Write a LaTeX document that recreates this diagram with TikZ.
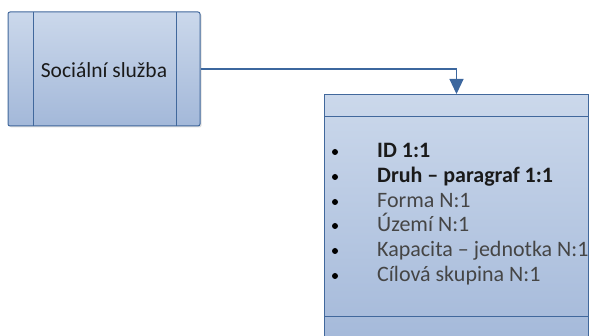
\documentclass[tikz,border=0pt]{standalone}
\usepackage{fontspec}
\setmainfont{Carlito}
\usetikzlibrary{arrows.meta,shadows}
\definecolor{boxtop}{HTML}{CBD8EB}
\definecolor{boxbot}{HTML}{A3B8D9}
\definecolor{edge}{HTML}{41689C}
\definecolor{link}{HTML}{3C679E}
\definecolor{darktext}{HTML}{1A1A1A}
\definecolor{greytext}{HTML}{454545}
\tikzset{
  boxstyle/.style={draw=edge, line width=1pt, top color=boxtop, bottom color=boxbot,
    inner sep=0pt, drop shadow={shadow xshift=1.5pt, shadow yshift=-1.5pt, opacity=0.25}},
  itemtext/.style={anchor=base west, inner sep=0pt},
  bulletdot/.style={circle, fill=black, inner sep=0pt, minimum size=6pt},
  linkstyle/.style={draw=link, line width=1.2pt, -{Triangle[length=15pt,width=14pt]}}
}
\newcommand{\itemsize}{\fontsize{22}{25}\selectfont}
\newcommand{\svcsize}{\fontsize{21.5}{25}\selectfont}
\begin{document}
\begin{tikzpicture}[x=1pt,y=-1pt]
\useasboundingbox (0,0) rectangle (589,336);
\clip (0,0) rectangle (589,336);
% left process box
\node[boxstyle, rounded corners=2pt, minimum width=192pt, minimum height=114pt] (svc) at (104,69) {};
\draw[edge, line width=1pt] (33,12) -- (33,126) (176,12) -- (176,126);
\node[font=\svcsize, text=darktext] (svctext) at (104,70) {Sociální služba};
% right class box
\node[boxstyle, minimum width=264pt, minimum height=256pt, anchor=north west] (cls) at (324,94) {};
\draw[edge, line width=1pt] (324,117) -- (588,117) (324,317) -- (588,317);
% connector
\draw[linkstyle] (svc.east) -| (cls.north);
% items
\node[bulletdot] (dota) at (335,152) {};
\node[itemtext, text=darktext, font=\itemsize\bfseries] (itema) at (377,158) {ID 1:1};
\node[bulletdot] (dotb) at (335,177) {};
\node[itemtext, text=darktext, font=\itemsize\bfseries] (itemb) at (377,183) {Druh – paragraf 1:1};
\node[bulletdot] (dotc) at (335,202) {};
\node[itemtext, text=greytext, font=\itemsize] (itemc) at (377,208) {Forma N:1};
\node[bulletdot] (dotd) at (335,226) {};
\node[itemtext, text=greytext, font=\itemsize] (itemd) at (377,232) {Území N:1};
\node[bulletdot] (dote) at (335,251) {};
\node[itemtext, text=greytext, font=\itemsize] (iteme) at (377,257) {Kapacita – jednotka N:1};
\node[bulletdot] (dotf) at (335,276) {};
\node[itemtext, text=greytext, font=\itemsize] (itemf) at (377,282) {Cílová skupina N:1};
\end{tikzpicture}
\end{document}
